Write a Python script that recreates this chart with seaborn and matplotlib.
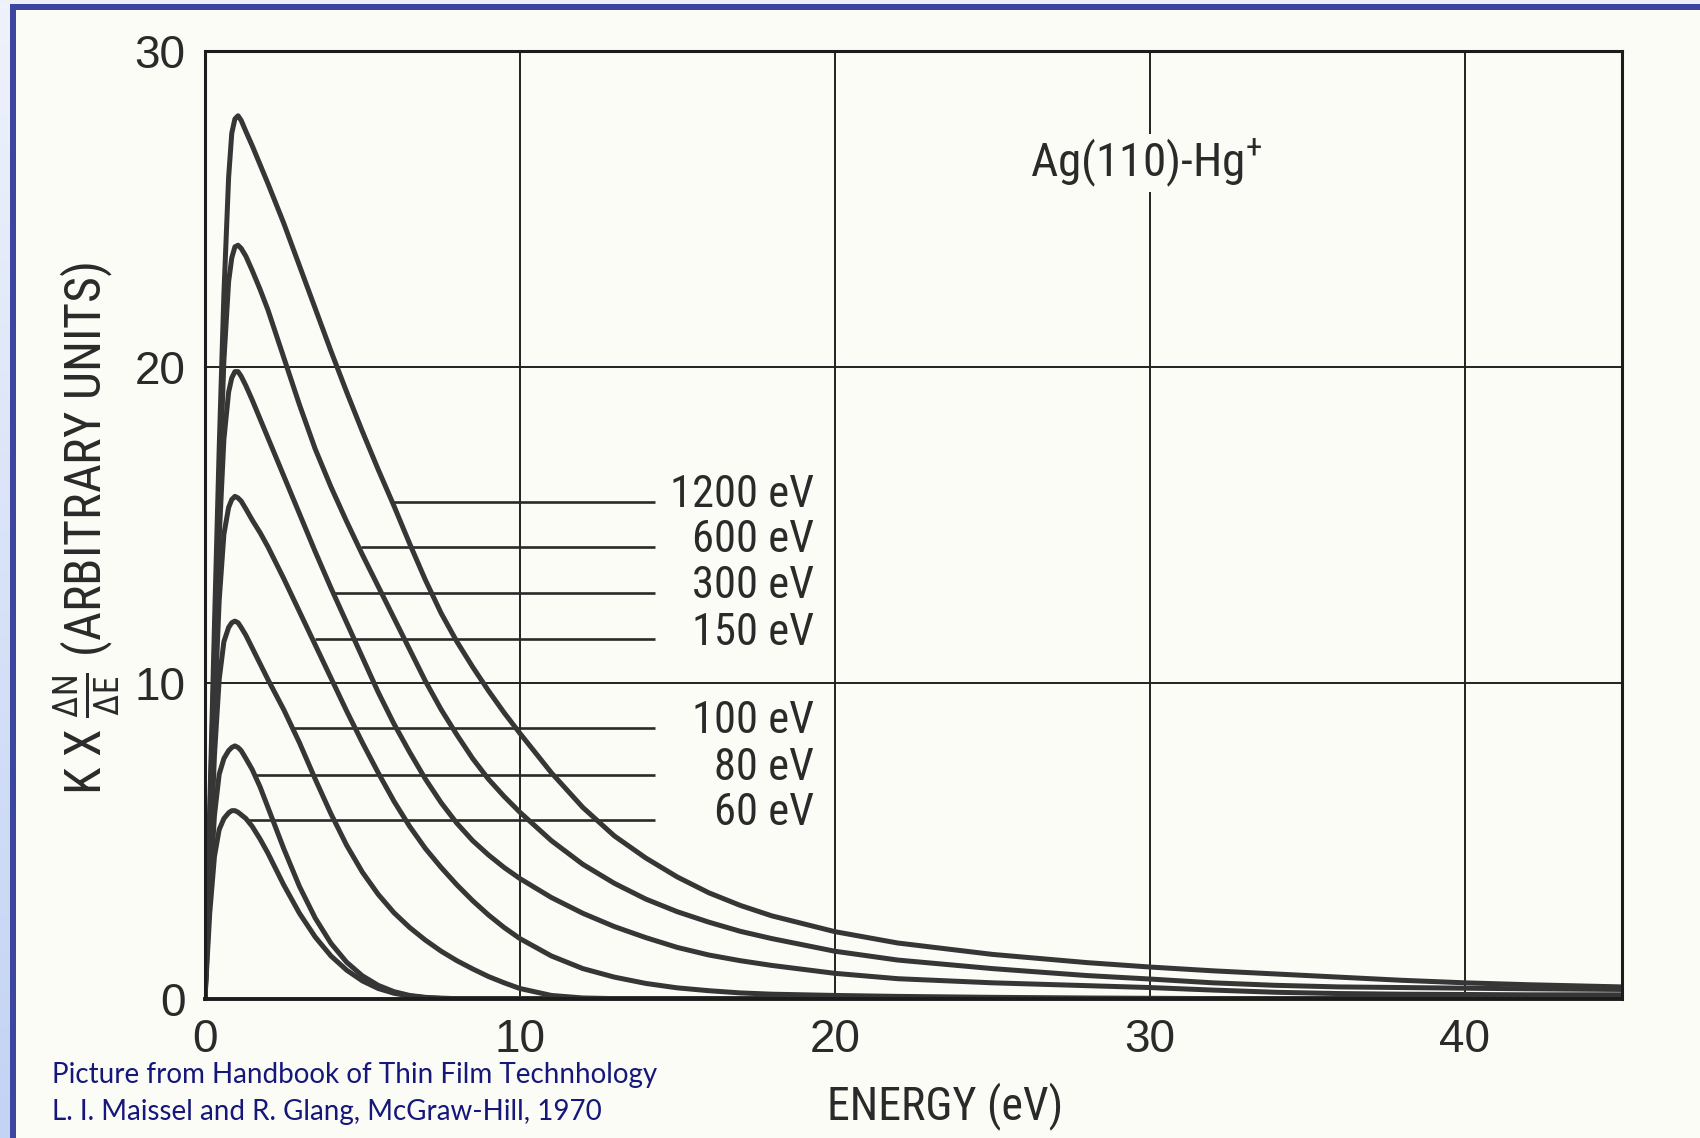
import numpy as np
import pandas as pd
import matplotlib
matplotlib.use("Agg")
import matplotlib.pyplot as plt
import seaborn as sns
from matplotlib import font_manager as fm
from matplotlib.patches import Rectangle
from matplotlib.colors import LinearSegmentedColormap

# ---------------- data ----------------
energy = [0, 0.15, 0.3, 0.45, 0.6, 0.75, 0.85, 0.95, 1.05, 1.15, 1.3, 1.5, 1.75, 2,
          2.5, 3, 3.5, 4, 4.5, 5, 5.5, 6, 6.5, 7, 7.5, 8, 8.5, 9, 9.5, 10,
          11, 12, 13, 14, 15, 16, 17, 18, 20, 22, 25, 28, 30, 32, 34, 36, 38, 40, 42, 45]

y_1200 = [0, 6.0, 11.8, 17.4, 22.3, 26.0, 27.4, 27.85, 27.95, 27.8, 27.45, 27.0, 26.4, 25.8,
          24.55, 23.2, 21.85, 20.5, 19.2, 17.95, 16.75, 15.6, 14.4, 13.25, 12.2, 11.3, 10.5, 9.75, 9.05, 8.4,
          7.15, 6.05, 5.15, 4.45, 3.85, 3.35, 2.95, 2.62, 2.12, 1.76, 1.4, 1.14, 1.0, 0.88, 0.78, 0.68, 0.58, 0.5, 0.44, 0.37]
y_600 = [0, 5.6, 11.0, 16.0, 20.2, 22.7, 23.45, 23.8, 23.85, 23.75, 23.5, 23.05, 22.45, 21.8,
         20.3, 18.8, 17.4, 16.2, 15.1, 14.05, 13.05, 12.05, 11.05, 10.05, 9.15, 8.35, 7.6, 6.95, 6.4, 5.9,
         5.0, 4.25, 3.65, 3.15, 2.75, 2.42, 2.13, 1.9, 1.5, 1.22, 0.95, 0.73, 0.62, 0.5, 0.42, 0.37, 0.35, 0.33, 0.31, 0.29]
y_300 = [0, 5.2, 10.2, 14.6, 17.7, 19.2, 19.65, 19.85, 19.85, 19.7, 19.4, 18.95, 18.35, 17.75,
         16.55, 15.35, 14.15, 13.0, 11.9, 10.8, 9.7, 8.7, 7.8, 6.95, 6.2, 5.55, 5.0, 4.55, 4.15, 3.8,
         3.2, 2.7, 2.28, 1.93, 1.62, 1.38, 1.2, 1.05, 0.8, 0.63, 0.5, 0.41, 0.35, 0.27, 0.2, 0.16, 0.14, 0.13, 0.12, 0.12]
y_150 = [0, 4.6, 9.0, 12.6, 14.7, 15.55, 15.8, 15.9, 15.85, 15.75, 15.5, 15.15, 14.75, 14.3,
         13.3, 12.25, 11.2, 10.15, 9.1, 8.1, 7.15, 6.25, 5.45, 4.75, 4.15, 3.6, 3.1, 2.65, 2.25, 1.9,
         1.35, 0.95, 0.68, 0.48, 0.34, 0.25, 0.18, 0.14, 0.1, 0.07, 0.04, 0.02, 0.01, 0, 0, 0, 0, 0, 0, 0]
y_100 = [0, 4.0, 7.7, 10.1, 11.3, 11.75, 11.9, 11.95, 11.9, 11.75, 11.5, 11.1, 10.6, 10.1,
         9.15, 8.1, 6.95, 5.85, 4.85, 4.0, 3.3, 2.72, 2.25, 1.85, 1.5, 1.2, 0.94, 0.7, 0.5, 0.32,
         0.1, 0.02, 0, 0, 0, 0, 0, 0, 0, 0, 0, 0, 0, 0, 0, 0, 0, 0, 0, 0]
y_80 = [0, 3.3, 5.8, 7.1, 7.6, 7.85, 7.95, 8.0, 7.95, 7.85, 7.6, 7.25, 6.7, 6.05,
        4.75, 3.55, 2.55, 1.75, 1.15, 0.72, 0.42, 0.22, 0.1, 0.04, 0.01, 0, 0, 0, 0, 0,
        0, 0, 0, 0, 0, 0, 0, 0, 0, 0, 0, 0, 0, 0, 0, 0, 0, 0, 0, 0]
y_60 = [0, 2.7, 4.5, 5.35, 5.7, 5.88, 5.95, 5.95, 5.9, 5.82, 5.7, 5.45, 5.05, 4.6,
        3.6, 2.7, 1.95, 1.35, 0.9, 0.56, 0.32, 0.17, 0.08, 0.03, 0.01, 0, 0, 0, 0, 0,
        0, 0, 0, 0, 0, 0, 0, 0, 0, 0, 0, 0, 0, 0, 0, 0, 0, 0, 0, 0]

series_labels = ["1200 eV", "600 eV", "300 eV", "150 eV", "100 eV", "80 eV", "60 eV"]
label_y = [15.72, 14.30, 12.85, 11.37, 8.57, 7.07, 5.65]
label_start = [5.95, 4.95, 4.07, 3.50, 2.80, 1.60, 1.40]
label_end = 14.3
label_text_x = 19.35

x_ticks = [0, 10, 20, 30, 40]
y_ticks = [0, 10, 20, 30]
title_text = "Ag(110)-Hg$^{+}$"
x_title = "ENERGY (eV)"
y_title = r"K X $\frac{\Delta N}{\Delta E}$ (ARBITRARY UNITS)"
credit_lines = ["Picture from Handbook of Thin Film Technhology",
                "L. I. Maissel and R. Glang, McGraw-Hill, 1970"]

curves = [y_1200, y_600, y_300, y_150, y_100, y_80, y_60]
df = pd.concat([pd.DataFrame({"E": energy, "Y": ys, "beam": lab})
                for ys, lab in zip(curves, series_labels)], ignore_index=True)


# ---------------- fonts ----------------
def pick_narrow():
    flist = fm.fontManager.ttflist
    names = {f.name for f in flist}
    for pref in ["Liberation Sans Narrow", "Arial Narrow", "Roboto Condensed",
                 "Open Sans Condensed", "DejaVu Sans Condensed", "Noto Sans Condensed"]:
        if pref in names:
            return True, fm.FontProperties(family=pref)
    for f in flist:
        if (str(f.stretch) in ("condensed", "semi-condensed") and f.style == "normal"
                and f.weight in (400, "normal", "regular")):
            return True, fm.FontProperties(fname=f.fname)
    return False, fm.FontProperties(family=["Liberation Sans", "DejaVu Sans"])


is_narrow, NARROW_FP = pick_narrow()


def fp(size):
    p = NARROW_FP.copy()
    p.set_size(size if is_narrow else size * 0.86)
    return p


# ---------------- styling ----------------
sns.set_style("white")
plt.rcParams["font.family"] = ["Liberation Sans", "DejaVu Sans"]
plt.rcParams["mathtext.default"] = "regular"

page = "#fcfcf6"
ink = "#2a2a2a"
curve_color = "#363636"

fig = plt.figure(figsize=(17, 11.38), dpi=100, facecolor="#eef1fb")
W, H = 1700, 1138
fig.patches.append(Rectangle((10 / W, 0), 1, 1 - 4 / H, transform=fig.transFigure,
                             facecolor="#3d469e", edgecolor="none", zorder=-3))
fig.patches.append(Rectangle((16 / W, 0), 1, 1 - 10 / H, transform=fig.transFigure,
                             facecolor=page, edgecolor="none", zorder=-2))
gax = fig.add_axes([0, 0, 10 / W, 1 - 4 / H])
grad = np.linspace(0, 1, 256).reshape(-1, 1)
gax.imshow(grad, aspect="auto", cmap=LinearSegmentedColormap.from_list("g", ["#eef2fc", "#c3d3f4"]))
gax.axis("off")

ax = fig.add_axes([205 / W, 1 - 998.6 / H, (1622 - 205) / W, (998.6 - 51) / H])
ax.set_facecolor(page)

sns.lineplot(data=df, x="E", y="Y", hue="beam", hue_order=series_labels,
             palette=[curve_color] * len(series_labels), estimator=None, sort=False,
             legend=False, linewidth=3.6, ax=ax, zorder=3,
             solid_capstyle="round", solid_joinstyle="round")

ax.hlines(label_y, label_start, label_end, colors=ink, linewidth=1.9, zorder=2.5)
for lab, yv in zip(series_labels, label_y):
    ax.text(label_text_x, yv + 0.22, lab, ha="right", va="center",
            fontproperties=fp(32), color=ink)

ax.text(26.2, 26.45, title_text, ha="left", va="center", fontproperties=fp(34), color=ink,
        bbox=dict(facecolor=page, edgecolor="none", pad=2), zorder=5)

ax.set_xlim(0, 45)
ax.set_ylim(0, 30)
ax.set_xticks(x_ticks)
ax.set_yticks(y_ticks)
ax.set_xlabel("")
ax.set_ylabel("")
ax.tick_params(length=0, labelsize=33, pad=14, labelcolor=ink)
ax.grid(True, color="#222222", linewidth=1.4)
ax.set_axisbelow(True)
for name, s in ax.spines.items():
    s.set_color("#1c1c1c")
    s.set_linewidth(2.8 if name == "bottom" else 2.2)
    s.set_zorder(4)

fig.text(945 / W, 1 - 1106 / H, x_title, ha="center", va="center",
         fontproperties=fp(33), color=ink)
fig.text(87 / W, 1 - 528 / H, y_title, ha="center", va="center", rotation=90,
         fontproperties=fp(36), color=ink)

for i, line in enumerate(credit_lines):
    fig.text(52 / W, 1 - (1075 + 37 * i) / H, line, ha="left", va="center",
             fontsize=20, color="#16177a", family=["Lato", "DejaVu Sans"])

fig.savefig("out.png", dpi=100, facecolor=fig.get_facecolor())
